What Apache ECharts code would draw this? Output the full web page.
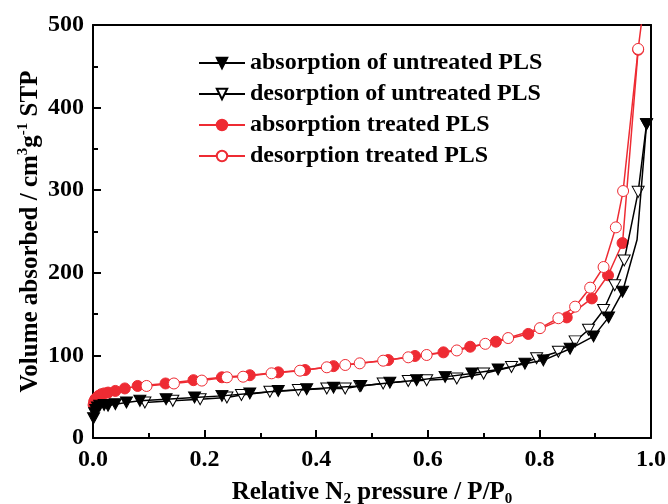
<!DOCTYPE html>
<html><head><meta charset="utf-8">
<script src="https://cdn.jsdelivr.net/npm/echarts@6/dist/echarts.min.js"></script>
<style>html,body{margin:0;padding:0;background:#fff}#c{width:668px;height:504px}</style>
</head><body><div id="c"></div>
<script>
const seriesNames = ['absorption of untreated PLS', 'desorption of untreated PLS', 'absorption treated PLS', 'desorption treated PLS'];
const xTicks = [0, 0.2, 0.4, 0.6, 0.8, 1.0];
const yTicks = [0, 100, 200, 300, 400, 500];

// [P/P0, volume]
const untreatedAbs = [[0.001,24],[0.003,30],[0.005,34],[0.008,37],[0.012,39],[0.02,40],[0.027,39],[0.04,41],[0.06,43],[0.084,45],[0.131,47],[0.182,49],[0.231,51],[0.281,54],[0.332,57],[0.383,59],[0.431,61],[0.48,63],[0.532,67],[0.58,70],[0.631,74],[0.679,78],[0.726,83],[0.774,90],[0.807,94],[0.855,108],[0.897,123],[0.924,146],[0.949,177],[0.975,240],[0.992,380]];
const untreatedAbsHidden = [29]; // point where the curve bends without a marker
const untreatedDes = [[0.992,380],[0.977,298],[0.952,215],[0.935,185],[0.915,155],[0.888,131],[0.864,117],[0.834,104.5],[0.795,96.5],[0.75,86],[0.7,78],[0.652,72],[0.598,70],[0.565,69],[0.52,66],[0.478,63],[0.452,60],[0.419,60],[0.368,58],[0.317,56],[0.266,52],[0.24,49],[0.192,47],[0.143,45],[0.093,43]];
const treatedAbs = [[0.001,40],[0.002,44],[0.004,47],[0.007,49],[0.01,51],[0.015,53],[0.02,54],[0.027,55],[0.04,57],[0.057,60],[0.08,63],[0.13,66],[0.18,70],[0.231,73.5],[0.281,76],[0.332,79.5],[0.38,82.3],[0.431,87],[0.529,94.4],[0.577,99.3],[0.628,103.7],[0.676,110.5],[0.722,116.6],[0.78,126],[0.849,146],[0.894,169],[0.923,197],[0.949,236],[0.977,470]];
const treatedDes = [[0.99,540],[0.977,471],[0.95,299],[0.937,255],[0.915,207],[0.891,182],[0.864,159],[0.834,145],[0.801,133],[0.744,121],[0.703,114],[0.652,106],[0.598,100.5],[0.565,97.7],[0.52,93.6],[0.478,90.4],[0.452,88.4],[0.419,85.6],[0.371,81.5],[0.32,78.3],[0.269,74.2],[0.24,73.5],[0.195,69.5],[0.145,66],[0.096,63]];

const RED = '#ee2b33';
const FONT = '"Liberation Serif", "Times New Roman", serif';

function withHidden(arr, hidden) {
  return arr.map((v, i) => hidden.includes(i) ? { value: v, symbolSize: 0 } : v);
}

const chart = echarts.init(document.getElementById('c'), null, { renderer: 'canvas' });
const labelStyle = { color: '#000', fontFamily: FONT, fontWeight: 'bold', fontSize: 24 };
const lineOnly = {
  axisLine: { show: true, onZero: false, lineStyle: { color: '#000', width: 2 } },
  axisTick: { show: false }, minorTick: { show: false }, axisLabel: { show: false }, splitLine: { show: false }
};
chart.setOption({
  animation: false,
  backgroundColor: '#fff',
  grid: { left: 93, right: 17, top: 25, bottom: 66, outerBoundsMode: 'none', containLabel: false },
  legend: {
    orient: 'vertical', left: 193, top: 46, itemWidth: 46, itemHeight: 13, itemGap: 7,
    data: seriesNames,
    textStyle: { color: '#000', fontFamily: FONT, fontWeight: 'bold', fontSize: 24 }
  },
  xAxis: [{
    type: 'value', position: 'bottom', min: xTicks[0], max: xTicks[xTicks.length - 1], splitNumber: xTicks.length - 1,
    axisLine: { show: true, onZero: false, lineStyle: { color: '#000', width: 2 } },
    axisTick: { show: true, inside: true, length: 8, lineStyle: { color: '#000', width: 2 } },
    minorTick: { show: true, splitNumber: 2, length: 5, lineStyle: { color: '#000', width: 2 } },
    splitLine: { show: false },
    axisLabel: Object.assign({}, labelStyle, { margin: 10, formatter: v => v.toFixed(1) }),
    name: 'Relative N{sub|2} pressure / P/P{sub|0}', nameLocation: 'middle', nameGap: 41, nameMoveOverlap: false,
    nameTextStyle: {
      color: '#000', fontFamily: FONT, fontWeight: 'bold', fontSize: 25, lineHeight: 28,
      rich: { sub: { fontFamily: FONT, fontWeight: 'bold', fontSize: 15, lineHeight: 13, verticalAlign: 'bottom', color: '#000' } }
    }
  }, Object.assign({ type: 'value', position: 'top', min: xTicks[0], max: xTicks[xTicks.length - 1], splitNumber: xTicks.length - 1 }, lineOnly)],
  yAxis: [{
    type: 'value', position: 'left', min: yTicks[0], max: yTicks[yTicks.length - 1], splitNumber: yTicks.length - 1,
    axisLine: { show: true, onZero: false, lineStyle: { color: '#000', width: 2 } },
    axisTick: { show: true, inside: true, length: 8, lineStyle: { color: '#000', width: 2 } },
    minorTick: { show: true, splitNumber: 2, length: 5, lineStyle: { color: '#000', width: 2 } },
    splitLine: { show: false },
    axisLabel: Object.assign({}, labelStyle, { margin: 9 }),
    name: 'Volume absorbed / cm{sup|3}g{sup|-1} STP', nameLocation: 'middle', nameGap: 47, nameMoveOverlap: false,
    nameTextStyle: {
      color: '#000', fontFamily: FONT, fontWeight: 'bold', fontSize: 25, lineHeight: 30,
      rich: { sup: { fontFamily: FONT, fontWeight: 'bold', fontSize: 15, lineHeight: 13, verticalAlign: 'top', color: '#000' } }
    }
  }, Object.assign({ type: 'value', position: 'right', min: yTicks[0], max: yTicks[yTicks.length - 1], splitNumber: yTicks.length - 1 }, lineOnly)],
  series: [
    { name: seriesNames[0], type: 'line', z: 4, data: withHidden(untreatedAbs, untreatedAbsHidden),
      symbol: 'triangle', symbolRotate: 180, symbolSize: [12, 11], showAllSymbol: true,
      lineStyle: { color: '#000', width: 1.5 }, itemStyle: { color: '#000', borderColor: '#000', borderWidth: 1 } },
    { name: seriesNames[1], type: 'line', z: 3, data: untreatedDes,
      symbol: 'triangle', symbolRotate: 180, symbolSize: [12, 11], showAllSymbol: true,
      lineStyle: { color: '#000', width: 1.5 }, itemStyle: { color: '#fff', borderColor: '#000', borderWidth: 1 } },
    { name: seriesNames[2], type: 'line', z: 2, data: treatedAbs,
      symbol: 'circle', symbolSize: 11, showAllSymbol: true,
      lineStyle: { color: RED, width: 1.5 }, itemStyle: { color: RED, borderColor: RED, borderWidth: 1 } },
    { name: seriesNames[3], type: 'line', z: 3, data: treatedDes,
      symbol: 'circle', symbolSize: 11, showAllSymbol: true,
      lineStyle: { color: RED, width: 1.5 }, itemStyle: { color: '#fff', borderColor: RED, borderWidth: 1 } }
  ]
});
</script>
</body></html>
